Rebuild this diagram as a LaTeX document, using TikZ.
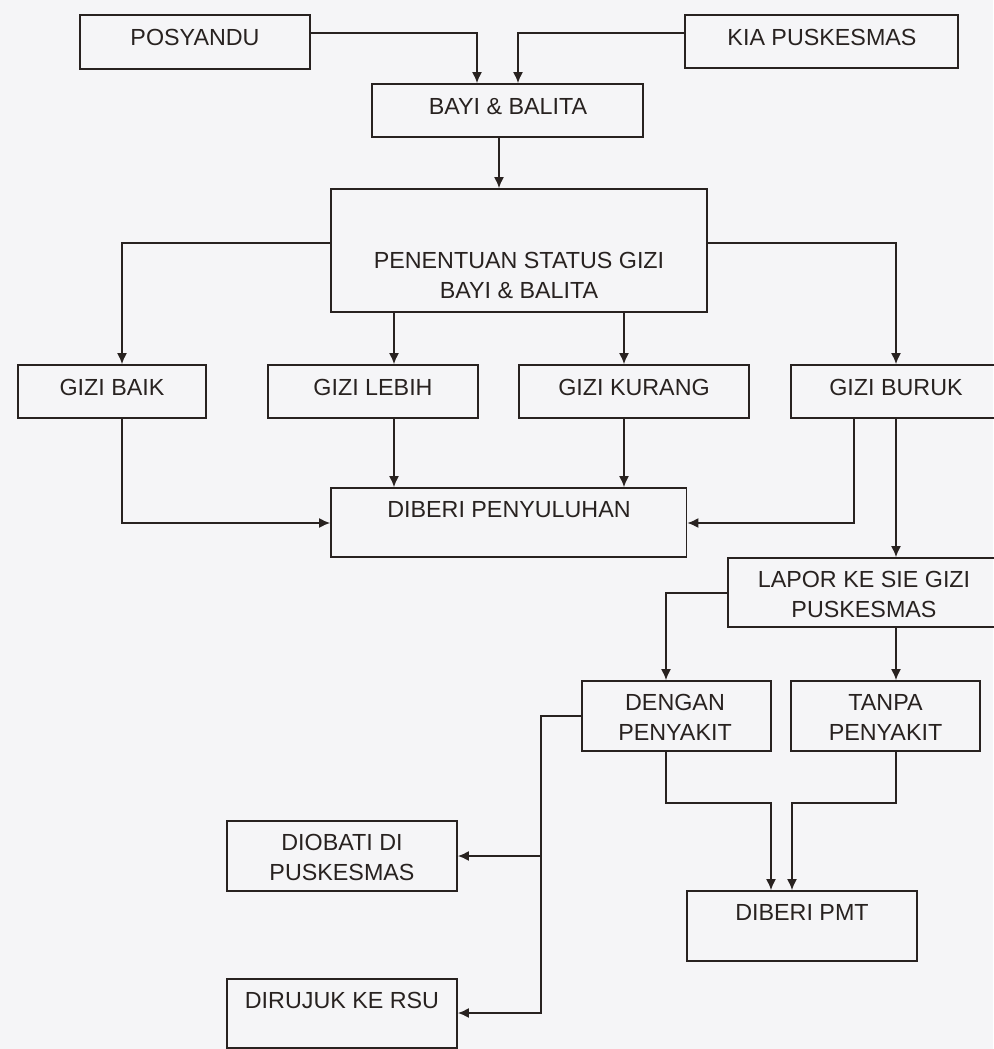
\documentclass[tikz,border=0pt]{standalone}
\usepackage{fontspec}
\setmainfont{Liberation Sans}
\usetikzlibrary{arrows.meta}
\definecolor{ink}{RGB}{40,34,32}
\definecolor{paper}{RGB}{245,245,247}
\begin{document}
\begin{tikzpicture}[x=1pt,y=-1pt,
  box/.style={draw=ink, line width=1.8pt, inner sep=0pt, minimum width=#1},
  txt/.style={text=ink, inner sep=0pt, align=center, font=\fontsize{23.3}{30}\selectfont},
  conn/.style={draw=ink, line width=1.5pt},
  arr/.style={conn, -{Latex[length=11pt,width=10pt]}}]
\useasboundingbox (0,0) rectangle (993,1049);
\fill[paper] (0,0) rectangle (993,1049);

% boxes
\node[box=230, minimum height=54] (pos) at (195,42) {};
\node[box=273, minimum height=53] (kia) at (821.5,41.5) {};
\node[box=271, minimum height=53] (bayi) at (507.5,110.5) {};
\node[box=376, minimum height=123] (pen) at (519,250.5) {};
\node[box=188, minimum height=53] (baik) at (112,391.5) {};
\node[box=210, minimum height=53] (lebih) at (373,391.5) {};
\node[box=230, minimum height=53] (kurang) at (634,391.5) {};
\node[box=210, minimum height=53] (buruk) at (896,391.5) {};
\node[box=355.5, minimum height=69] (peny) at (508.75,522.5) {};
\node[box=272, minimum height=69] (lapor) at (864,592.5) {};
\node[box=189, minimum height=70] (dengan) at (676.5,716) {};
\node[box=189, minimum height=70] (tanpa) at (885.5,716) {};
\node[box=230, minimum height=70] (obat) at (342,856) {};
\node[box=230, minimum height=70] (pmt) at (802,926) {};
\node[box=230, minimum height=69] (rujuk) at (342,1013.5) {};

% texts
\node[txt] (tpos) at (195,37) {POSYANDU};
\node[txt] (tkia) at (822,37) {KIA PUSKESMAS};
\node[txt] (tbayi) at (508,107) {BAYI \& BALITA};
\node[txt] (tpen) at (519,275) {PENENTUAN STATUS GIZI\\BAYI \& BALITA};
\node[txt] (tbaik) at (112,387) {GIZI BAIK};
\node[txt] (tlebih) at (373,387) {GIZI LEBIH};
\node[txt] (tkurang) at (634,387) {GIZI KURANG};
\node[txt] (tburuk) at (896,387) {GIZI BURUK};
\node[txt] (tpeny) at (509,510) {DIBERI PENYULUHAN};
\node[txt] (tlapor) at (864,594) {LAPOR KE SIE GIZI\\PUSKESMAS};
\node[txt] (tdengan) at (675,717) {DENGAN\\PENYAKIT};
\node[txt] (ttanpa) at (885.5,717) {TANPA\\PENYAKIT};
\node[txt] (tobat) at (342,857.5) {DIOBATI DI\\PUSKESMAS};
\node[txt] (tpmt) at (802,912) {DIBERI PMT};
\node[txt] (trujuk) at (342,1000) {DIRUJUK KE RSU};

% lanes
\coordinate (y33) at (0,33);
\coordinate (x477) at (477,0);
\coordinate (x518) at (518,0);
\coordinate (x499) at (499,0);
\coordinate (y243) at (0,243);
\coordinate (x122) at (122,0);
\coordinate (x896) at (896,0);
\coordinate (x394) at (394,0);
\coordinate (x624) at (624,0);
\coordinate (y523) at (0,523);
\coordinate (x854) at (854,0);
\coordinate (y593) at (0,593);
\coordinate (x666) at (666,0);
\coordinate (y716) at (0,716);
\coordinate (x541) at (541,0);
\coordinate (y856) at (0,856);
\coordinate (y1013) at (0,1013);
\coordinate (y803) at (0,803);
\coordinate (x771) at (771,0);
\coordinate (x792) at (792,0);

% connectors
\draw[arr] (pos.east |- y33) -| (bayi.north -| x477);
\draw[arr] (kia.west |- y33) -| (bayi.north -| x518);
\draw[arr] (bayi.south -| x499) -- (pen.north -| x499);
\draw[arr] (pen.west |- y243) -| (baik.north -| x122);
\draw[arr] (pen.east |- y243) -| (buruk.north -| x896);
\draw[arr] (pen.south -| x394) -- (lebih.north -| x394);
\draw[arr] (pen.south -| x624) -- (kurang.north -| x624);
\draw[arr] (lebih.south -| x394) -- (peny.north -| x394);
\draw[arr] (kurang.south -| x624) -- (peny.north -| x624);
\draw[arr] (baik.south -| x122) |- (peny.west |- y523);
\draw[arr] (buruk.south -| x854) |- (peny.east |- y523);
\draw[arr] (buruk.south -| x896) -- (lapor.north -| x896);
\draw[arr] (lapor.west |- y593) -| (dengan.north -| x666);
\draw[arr] (lapor.south -| x896) -- (tanpa.north -| x896);
\draw[arr] (dengan.west |- y716) -| (x541 |- y1013) -- (rujuk.east |- y1013);
\draw[arr] (x541 |- y856) -- (obat.east |- y856);
\draw[arr] (dengan.south -| x666) |- (x771 |- y803) -- (pmt.north -| x771);
\draw[arr] (tanpa.south -| x896) |- (x792 |- y803) -- (pmt.north -| x792);
\end{tikzpicture}
\end{document}
